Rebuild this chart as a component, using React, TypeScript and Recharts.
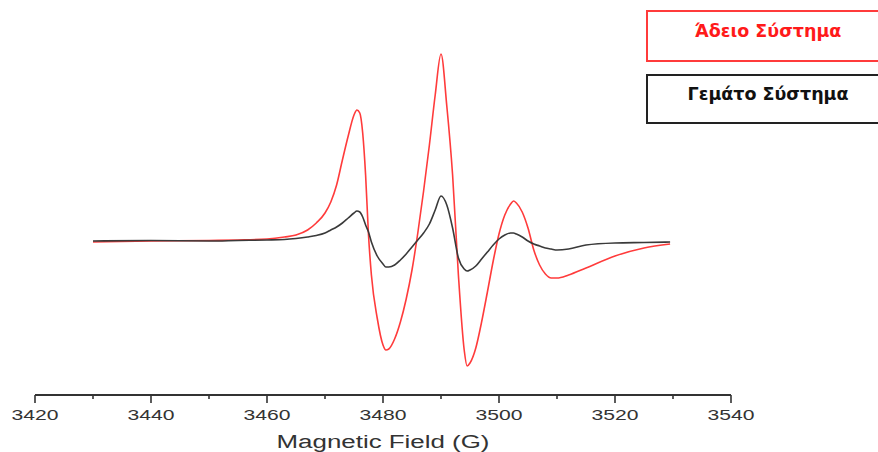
import { LineChart, Line, XAxis, YAxis } from "recharts";

// EPR spectra: empty vs full system
const FIELD = [
  3430, 3440, 3450, 3455, 3460, 3463, 3465, 3467, 3468.5, 3470, 3471, 3472, 3473, 3474, 3475, 3475.5,
  3476, 3476.5, 3477, 3477.5, 3478, 3479, 3480, 3480.5, 3481, 3482, 3483, 3484, 3485, 3486, 3487,
  3488, 3489, 3490, 3491, 3492, 3493, 3494, 3494.5, 3495, 3496, 3497, 3498, 3499, 3500, 3501, 3502,
  3502.5, 3503, 3504, 3505, 3506, 3507, 3508, 3509, 3510, 3512, 3515, 3520, 3525, 3529.5,
];

const EMPTY = [
  -1, 0, 0.5, 1, 2, 4, 6, 11, 18, 28, 39, 56, 81, 105, 126, 131,
  128, 108, 66, 6, -34, -77, -104, -109, -108, -98, -81, -58, -29, 8, 50,
  96, 146, 187, 135, 66, -34, -109, -125, -122, -107, -81, -51, -20, 7, 26, 37,
  40, 38, 29, 13, -9, -24, -33, -37, -37, -34, -27, -15, -7, -3,
];

const FULL = [
  0, 0.5, 0, 0.5, 1, 1.5, 2.5, 4, 5.5, 8, 11, 14, 18, 23, 28, 30,
  29, 24, 16, 9, -1, -15, -23, -26, -26, -24, -19, -13, -6, 1, 8,
  17, 31, 45, 36, 13, -17, -28, -30, -29, -25, -18, -11, -4, 2, 6, 8,
  8, 7, 4, 0, -3, -5, -7, -8, -9, -8, -4, -2, -1.5, -1,
];

const X_TICKS = [3420, 3430, 3440, 3450, 3460, 3470, 3480, 3490, 3500, 3510, 3520, 3530, 3540];

const data = FIELD.map((f, i) => ({ field: f, empty: EMPTY[i], full: FULL[i] }));

const TICK_SIZE = 8;
const FONT = "'Liberation Sans', Arial, sans-serif";

function FieldTick(props: any) {
  const { x, y, payload } = props;
  const major = payload.value % 20 === 0;
  const axisY = y - TICK_SIZE;
  return (
    <g>
      <line x1={x} x2={x} y1={axisY} y2={major ? axisY + TICK_SIZE : axisY + 4} stroke="#333" strokeWidth={1.6} />
      {major && (
        <text
          x={x}
          y={axisY + 25}
          textAnchor="middle"
          fontSize={14}
          fontFamily={FONT}
          fill="#333"
          textLength={47}
          lengthAdjust="spacingAndGlyphs"
        >
          {payload.value}
        </text>
      )}
    </g>
  );
}

function AxisTitle(props: any) {
  const { x, y, width, height } = props.viewBox;
  return (
    <text
      x={x + width / 2}
      y={y + height - 4}
      textAnchor="middle"
      fontSize={18}
      fontFamily={FONT}
      fill="#333"
      textLength={213}
      lengthAdjust="spacingAndGlyphs"
    >
      Magnetic Field (G)
    </text>
  );
}

const boxStyle = {
  position: "absolute" as const,
  left: 646,
  width: 244,
  boxSizing: "border-box" as const,
  textAlign: "center" as const,
  fontFamily: "'DejaVu Sans', sans-serif",
  fontWeight: 700,
  fontSize: 17.5,
};

export default function App() {
  return (
    <div style={{ position: "relative", width: 878, height: 452, overflow: "hidden", background: "#fff" }}>
      <style>{`body{margin:0}`}</style>
      <LineChart width={878} height={452} data={data} margin={{ top: 20, right: 147, bottom: 0, left: 35 }}>
        <XAxis
          dataKey="field"
          type="number"
          domain={[3420, 3540]}
          ticks={X_TICKS}
          interval={0}
          height={57}
          axisLine={{ stroke: "#333", strokeWidth: 2 }}
          tickLine={false}
          tickSize={TICK_SIZE}
          tickMargin={0}
          tick={<FieldTick />}
          label={<AxisTitle />}
        />
        <YAxis hide domain={[-154, 221]} allowDataOverflow />
        <Line
          dataKey="empty"
          type="monotone"
          stroke="#ff3b3b"
          strokeWidth={1.6}
          dot={false}
          isAnimationActive={false}
        />
        <Line
          dataKey="full"
          type="monotone"
          stroke="#3a3a3a"
          strokeWidth={1.6}
          dot={false}
          isAnimationActive={false}
        />
      </LineChart>
      <div style={{ ...boxStyle, top: 10, height: 52, border: "2px solid #ff3b3b", color: "#ff1a1a", paddingTop: 9 }}>
        Άδειο Σύστημα
      </div>
      <div style={{ ...boxStyle, top: 74, height: 50, border: "2px solid #222", color: "#111", paddingTop: 8 }}>
        Γεμάτο Σύστημα
      </div>
    </div>
  );
}
